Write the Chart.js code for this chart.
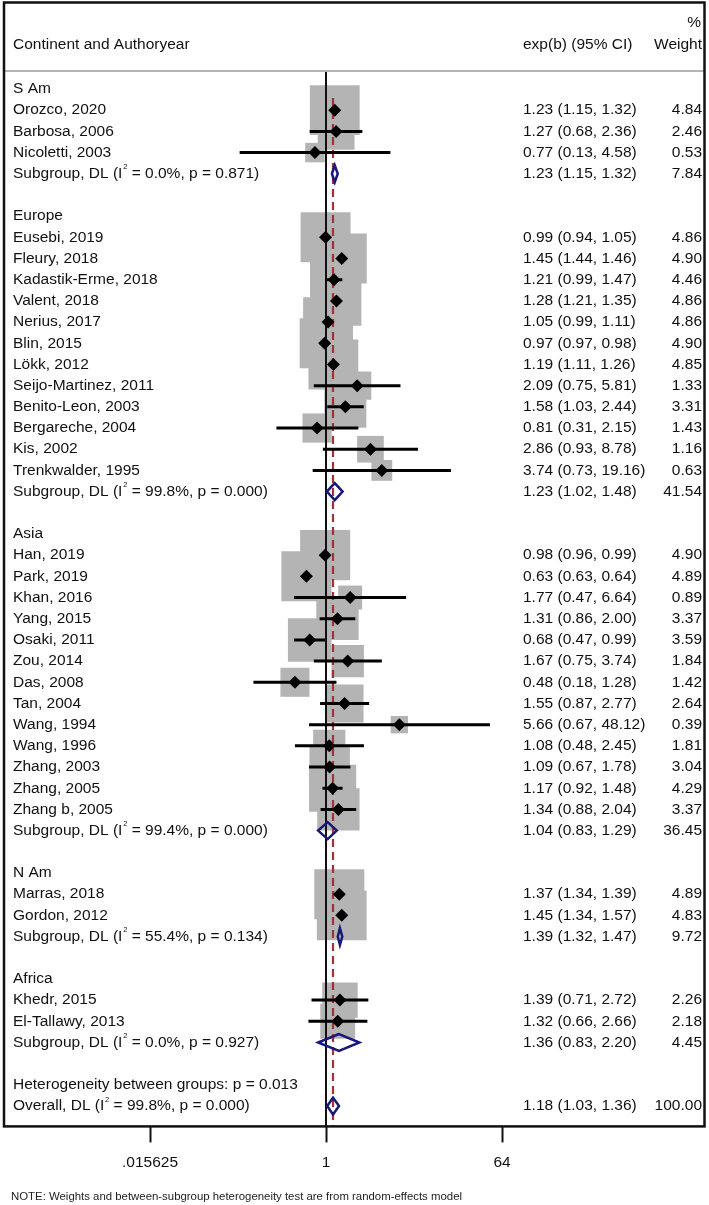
<!DOCTYPE html>
<html>
<head>
<meta charset="utf-8">
<script src="https://cdn.jsdelivr.net/npm/chart.js@4.4.0/dist/chart.umd.min.js"></script>
<style>
  html, body { margin: 0; padding: 0; background: #fff; }
  canvas { display: block; }
</style>
</head>
<body>
<canvas id="forest-canvas" width="709" height="1205"></canvas>
<script>
// ---- data ----
const groupNames = ['S Am', 'Europe', 'Asia', 'N Am', 'Africa'];
const groupSizes = [3, 12, 13, 2, 2];

const studyNames = [
  'Orozco, 2020', 'Barbosa, 2006', 'Nicoletti, 2003',
  'Eusebi, 2019', 'Fleury, 2018', 'Kadastik-Erme, 2018', 'Valent, 2018', 'Nerius, 2017', 'Blin, 2015',
  'Lökk, 2012', 'Seijo-Martinez, 2011', 'Benito-Leon, 2003', 'Bergareche, 2004', 'Kis, 2002', 'Trenkwalder, 1995',
  'Han, 2019', 'Park, 2019', 'Khan, 2016', 'Yang, 2015', 'Osaki, 2011', 'Zou, 2014', 'Das, 2008', 'Tan, 2004',
  'Wang, 1994', 'Wang, 1996', 'Zhang, 2003', 'Zhang, 2005', 'Zhang b, 2005',
  'Marras, 2018', 'Gordon, 2012',
  'Khedr, 2015', 'El-Tallawy, 2013'
];
const studyEst = [
  1.23, 1.27, 0.77,
  0.99, 1.45, 1.21, 1.28, 1.05, 0.97, 1.19, 2.09, 1.58, 0.81, 2.86, 3.74,
  0.98, 0.63, 1.77, 1.31, 0.68, 1.67, 0.48, 1.55, 5.66, 1.08, 1.09, 1.17, 1.34,
  1.37, 1.45,
  1.39, 1.32
];
const studyLow = [
  1.15, 0.68, 0.13,
  0.94, 1.44, 0.99, 1.21, 0.99, 0.97, 1.11, 0.75, 1.03, 0.31, 0.93, 0.73,
  0.96, 0.63, 0.47, 0.86, 0.47, 0.75, 0.18, 0.87, 0.67, 0.48, 0.67, 0.92, 0.88,
  1.34, 1.34,
  0.71, 0.66
];
const studyHigh = [
  1.32, 2.36, 4.58,
  1.05, 1.46, 1.47, 1.35, 1.11, 0.98, 1.26, 5.81, 2.44, 2.15, 8.78, 19.16,
  0.99, 0.64, 6.64, 2.00, 0.99, 3.74, 1.28, 2.77, 48.12, 2.45, 1.78, 1.48, 2.04,
  1.39, 1.57,
  2.72, 2.66
];
const studyWeight = [
  4.84, 2.46, 0.53,
  4.86, 4.90, 4.46, 4.86, 4.86, 4.90, 4.85, 1.33, 3.31, 1.43, 1.16, 0.63,
  4.90, 4.89, 0.89, 3.37, 3.59, 1.84, 1.42, 2.64, 0.39, 1.81, 3.04, 4.29, 3.37,
  4.89, 4.83,
  2.26, 2.18
];

const subEst = [1.23, 1.23, 1.04, 1.39, 1.36];
const subLow = [1.15, 1.02, 0.83, 1.32, 0.83];
const subHigh = [1.32, 1.48, 1.29, 1.47, 2.20];
const subWeight = [7.84, 41.54, 36.45, 9.72, 4.45];
const subI2 = ['0.0', '99.8', '99.4', '55.4', '0.0'];
const subP = ['0.871', '0.000', '0.000', '0.134', '0.927'];

const hetP = '0.013';
const overallEst = 1.18;
const overallLow = 1.03;
const overallHigh = 1.36;
const overallWeight = 100;
const overallI2 = '99.8';
const overallP = '0.000';

const tickValues = [0.015625, 1, 64];
const tickLabels = ['.015625', '1', '64'];

// ---- row layout ----
const studyRow = [];
const subRow = [];
const groupRow = [];
let r = 0, s = 0;
groupNames.forEach((g, gi) => {
  groupRow[gi] = r++;
  for (let k = 0; k < groupSizes[gi]; k++, s++) studyRow[s] = r++;
  subRow[gi] = r++;
  r++;
});
const hetRow = r++;
const overallRow = r;

const yMin = -0.85;
const yMax = overallRow + 0.96;

const FAMILY = '"Liberation Sans", Arial, sans-serif';
const TEXT_FONT = '15.5px ' + FAMILY;
const SUP_FONT = '7.5px ' + FAMILY;
const fmt = v => v.toFixed(2);
const ciText = (e, l, h) => fmt(e) + ' (' + fmt(l) + ', ' + fmt(h) + ')';

// ---- datasets ----
const gap = { x: NaN, y: NaN };
const ciPoints = [];
studyEst.forEach((v, i) => {
  ciPoints.push({ x: studyLow[i], y: studyRow[i] }, { x: studyHigh[i], y: studyRow[i] }, gap);
});

const diamondHalf = 0.4;
const diamondPoints = [];
function addDiamond(e, l, h, y) {
  diamondPoints.push(
    { x: l, y: y }, { x: e, y: y - diamondHalf }, { x: h, y: y },
    { x: e, y: y + diamondHalf }, { x: l, y: y }, { x: e, y: y - diamondHalf }, gap
  );
}
subEst.forEach((v, i) => addDiamond(v, subLow[i], subHigh[i], subRow[i]));
addDiamond(overallEst, overallLow, overallHigh, overallRow);

const boxSide = w => 4.5 + 20.6 * Math.sqrt(w);

const textPlugin = {
  id: 'forestText',
  afterDatasetsDraw(chart) {
    const ctx = chart.ctx;
    const yS = chart.scales.y;
    const xLabel = 13, xCI = 523, xW = 702;
    ctx.save();
    ctx.fillStyle = '#111';
    ctx.font = TEXT_FONT;
    ctx.textBaseline = 'middle';

    // header
    ctx.textAlign = 'left';
    ctx.fillText('Continent and Authoryear', xLabel, 45);
    ctx.fillText('exp(b) (95% CI)', xCI, 45);
    ctx.textAlign = 'right';
    ctx.fillText('%', xW - 1, 23);
    ctx.fillText('Weight', xW, 45);

    const stat = (head, i2, p, y) => {
      ctx.textAlign = 'left';
      const a = head + ' (I';
      ctx.fillText(a, xLabel, y);
      const w = ctx.measureText(a).width;
      ctx.font = SUP_FONT;
      ctx.fillText('2', xLabel + w + 0.8, y - 6.5);
      const sw = ctx.measureText('2').width;
      ctx.font = TEXT_FONT;
      ctx.fillText(' = ' + i2 + '%, p = ' + p + ')', xLabel + w + sw + 0.8, y);
    };
    const right = (ci, wt, y) => {
      ctx.textAlign = 'left';
      ctx.fillText(ci, xCI, y);
      ctx.textAlign = 'right';
      ctx.fillText(wt, xW, y);
    };

    groupNames.forEach((g, gi) => {
      ctx.textAlign = 'left';
      ctx.fillText(g, xLabel, yS.getPixelForValue(groupRow[gi]));
      const y = yS.getPixelForValue(subRow[gi]);
      stat('Subgroup, DL', subI2[gi], subP[gi], y);
      right(ciText(subEst[gi], subLow[gi], subHigh[gi]), fmt(subWeight[gi]), y);
    });
    studyNames.forEach((n, i) => {
      const y = yS.getPixelForValue(studyRow[i]);
      ctx.textAlign = 'left';
      ctx.fillText(n, xLabel, y);
      right(ciText(studyEst[i], studyLow[i], studyHigh[i]), fmt(studyWeight[i]), y);
    });
    ctx.textAlign = 'left';
    ctx.fillText('Heterogeneity between groups: p = ' + hetP, xLabel, yS.getPixelForValue(hetRow));
    const oy = yS.getPixelForValue(overallRow);
    stat('Overall, DL', overallI2, overallP, oy);
    right(ciText(overallEst, overallLow, overallHigh), fmt(overallWeight), oy);

    // note
    ctx.font = '11.4px ' + FAMILY;
    ctx.fillStyle = '#222';
    ctx.textAlign = 'left';
    ctx.fillText('NOTE: Weights and between-subgroup heterogeneity test are from random-effects model', 11, 1197);
    ctx.restore();
  },
  afterDraw(chart) {
    const ctx = chart.ctx;
    const a = chart.chartArea;
    ctx.save();
    ctx.strokeStyle = '#b4b4b4';
    ctx.lineWidth = 2;
    ctx.beginPath();
    ctx.moveTo(5, a.top);
    ctx.lineTo(704, a.top);
    ctx.stroke();
    ctx.strokeStyle = '#111';
    ctx.lineWidth = 2.5;
    ctx.strokeRect(4, 2.5, 700.5, a.bottom - 2.5);
    ctx.restore();
  }
};

new Chart(document.getElementById('forest-canvas').getContext('2d'), {
  type: 'scatter',
  data: {
    datasets: [
      {
        label: 'weight boxes',
        data: studyEst.map((v, i) => ({ x: v, y: studyRow[i] })),
        pointStyle: 'rect',
        pointRadius: ctx => boxSide(studyWeight[ctx.dataIndex]) / Math.SQRT2,
        backgroundColor: '#b4b4b4',
        borderWidth: 0,
        order: 6
      },
      {
        label: 'no effect',
        data: [{ x: 1, y: yMin }, { x: 1, y: yMax }],
        showLine: true,
        borderColor: '#111',
        borderWidth: 2,
        pointRadius: 0,
        order: 5
      },
      {
        label: 'overall effect',
        data: [{ x: overallEst, y: 0.42 }, { x: overallEst, y: yMax }],
        showLine: true,
        borderColor: '#a3303a',
        borderWidth: 2.2,
        borderDash: [8, 5],
        pointRadius: 0,
        order: 4
      },
      {
        label: '95% CI',
        data: ciPoints,
        showLine: true,
        borderColor: '#000',
        borderWidth: 3,
        pointRadius: 0,
        order: 3
      },
      {
        label: 'pooled',
        data: diamondPoints,
        showLine: true,
        borderColor: '#18187a',
        borderWidth: 2.5,
        borderJoinStyle: 'miter',
        pointRadius: 0,
        order: 2
      },
      {
        label: 'estimate',
        data: studyEst.map((v, i) => ({ x: v, y: studyRow[i] })),
        pointStyle: 'rectRot',
        pointRadius: 6.5,
        backgroundColor: '#000',
        borderWidth: 0,
        order: 1
      }
    ]
  },
  options: {
    responsive: false,
    animation: false,
    events: [],
    clip: false,
    layout: { padding: { left: 150, right: 207, top: 71, bottom: 22 } },
    plugins: { legend: { display: false }, tooltip: { enabled: false } },
    scales: {
      x: {
        type: 'logarithmic',
        min: tickValues[0],
        max: tickValues[tickValues.length - 1],
        bounds: 'data',
        afterBuildTicks: scale => { scale.ticks = tickValues.map(v => ({ value: v })); },
        border: { display: false },
        grid: {
          drawOnChartArea: false,
          drawTicks: true,
          tickLength: 16,
          tickWidth: 2,
          tickColor: '#111'
        },
        ticks: {
          autoSkip: false,
          maxRotation: 0,
          padding: 11,
          color: '#111',
          font: { family: FAMILY, size: 15.5 },
          callback: (value, index) => tickLabels[index]
        }
      },
      y: {
        type: 'linear',
        reverse: true,
        min: yMin,
        max: yMax,
        display: false
      }
    }
  },
  plugins: [textPlugin]
});
</script>
</body>
</html>
